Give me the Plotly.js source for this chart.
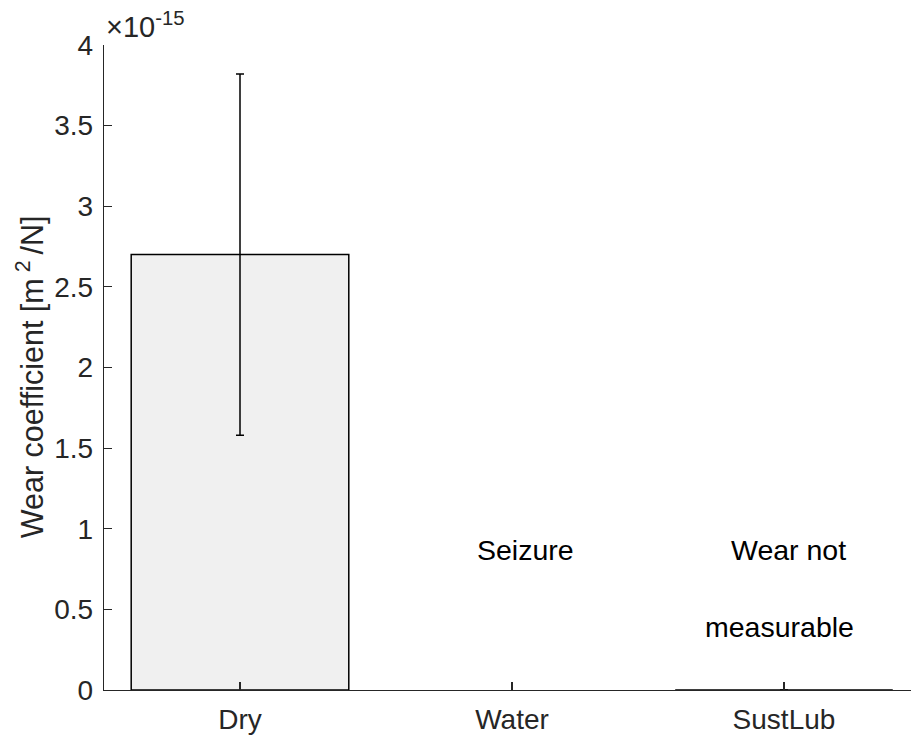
<!DOCTYPE html>
<html>
<head>
<meta charset="utf-8">
<script src="https://cdn.plot.ly/plotly-3.0.1.min.js"></script>
<style>html,body{margin:0;padding:0;background:#fff;}#chart{width:911px;height:735px;}</style>
</head>
<body>
<div id="chart"></div>
<script>
// Data (values in units of 1e-15 m^2/N)
const categories = ['Dry', 'Water', 'SustLub'];
const categoryPos = [1, 2, 3];
const wearCoef = [2.7, null, 0];
const wearErr = [1.12, 0, 0];
const exponentLabel = '\u00d710<sup>-15</sup>';
const yTickVals = [0, 0.5, 1, 1.5, 2, 2.5, 3, 3.5, 4];
const yTickText = ['0', '0.5', '1', '1.5', '2', '2.5', '3', '3.5', '4'];
const noteTexts = ['Seizure', 'Wear not', 'measurable'];
const noteX = [2.05, 3.015, 2.985];
const noteY = [0.87, 0.87, 0.39];

const txt = '#262626';
const font = 'Liberation Sans, Arial, Helvetica, sans-serif';

const trace = {
  type: 'bar',
  x: categoryPos,
  y: wearCoef,
  width: 0.8,
  marker: {color: '#f0f0f0', line: {color: '#000000', width: 1.5}},
  error_y: {type: 'data', array: wearErr, visible: true, color: '#000000', thickness: 1.5, width: 4},
  hoverinfo: 'skip',
  showlegend: false
};

const annotations = noteTexts.map((t, i) => ({
  x: noteX[i], y: noteY[i], xref: 'x', yref: 'y', text: t, showarrow: false,
  xanchor: 'center', yanchor: 'middle', font: {family: font, size: 28.5, color: '#000000'}
}));
annotations.push({
  x: 0, y: 0.485, xref: 'paper', yref: 'paper', xanchor: 'center', yanchor: 'middle',
  xshift: -74, yshift: 0, text: 'Wear coefficient [m<sup> 2 </sup>/N]', textangle: -90, showarrow: false,
  font: {family: font, size: 30.5, color: txt}
});
annotations.push({
  x: 0, y: 1, xref: 'paper', yref: 'paper', xanchor: 'left', yanchor: 'bottom',
  xshift: 0, yshift: 0, text: exponentLabel, showarrow: false,
  font: {family: font, size: 29, color: txt}
});

const layout = {
  width: 911, height: 735,
  margin: {l: 104, r: 0, t: 45, b: 45},
  paper_bgcolor: '#ffffff', plot_bgcolor: '#ffffff',
  font: {family: font, size: 28, color: txt},
  xaxis: {
    range: [0.5, 3.467], tickvals: categoryPos, ticktext: categories,
    ticks: 'inside', ticklen: 8, tickwidth: 1.2, tickcolor: txt,
    showline: true, linecolor: txt, linewidth: 1.3, showgrid: false, zeroline: false,
    tickfont: {family: font, size: 28, color: txt}, ticklabelstandoff: 4
  },
  yaxis: {
    range: [0, 4], tickvals: yTickVals, ticktext: yTickText,
    ticks: 'inside', ticklen: 8, tickwidth: 1.2, tickcolor: txt,
    showline: true, linecolor: txt, linewidth: 1.3, showgrid: false, zeroline: false,
    tickfont: {family: font, size: 28, color: txt}, ticklabelstandoff: 4
  },
  annotations: annotations
};

Plotly.newPlot('chart', [trace], layout, {displayModeBar: false, staticPlot: true});
</script>
</body>
</html>
